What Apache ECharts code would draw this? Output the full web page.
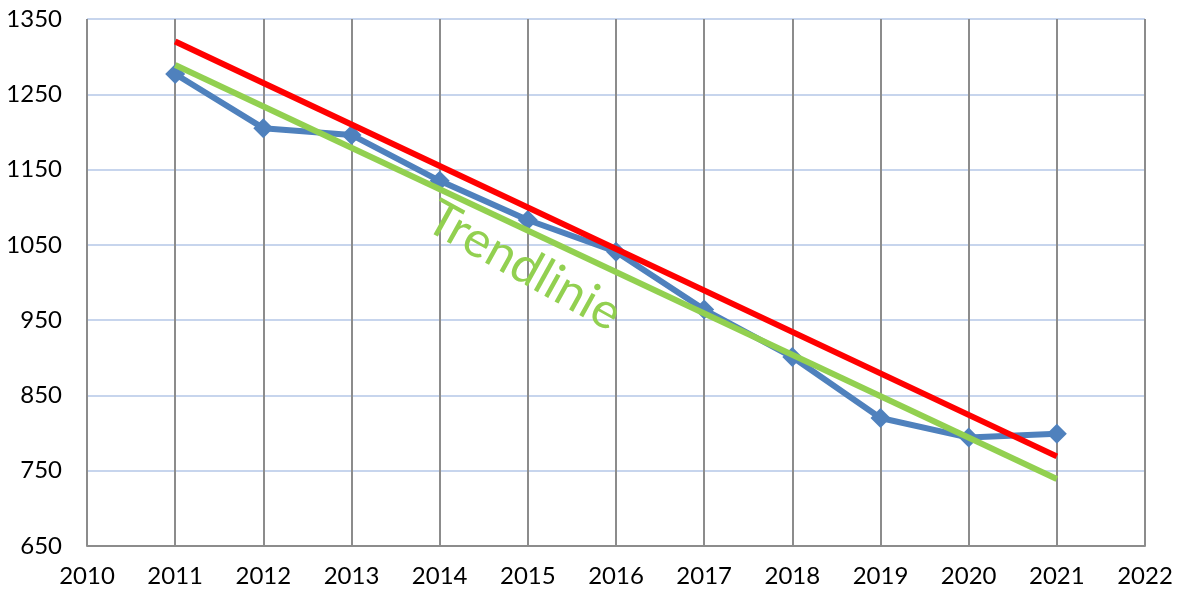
<!DOCTYPE html>
<html>
<head>
<meta charset="utf-8">
<script src="https://cdn.jsdelivr.net/npm/echarts@6/dist/echarts.min.js"></script>
<style>
  html, body { margin: 0; padding: 0; background: #fff; }
  #chart { width: 1178px; height: 594px; }
</style>
</head>
<body>
<div id="chart"></div>
<script>
const years = [2011, 2012, 2013, 2014, 2015, 2016, 2017, 2018, 2019, 2020, 2021]
const values = [1277, 1205, 1196, 1135, 1083, 1041, 964, 901, 820, 794, 799]
const redLine = [[2011, 1320], [2021, 769]]
const greenLine = [[2011, 1289], [2021, 739]]
const yTicks = [650, 750, 850, 950, 1050, 1150, 1250, 1350]
const trendLabel = 'Trendlinie'

const chart = echarts.init(document.getElementById('chart'))
const font = 'Lato, "Open Sans", sans-serif'

chart.setOption({
  animation: false,
  backgroundColor: '#fff',
  grid: { left: 87, right: 33, top: 19, bottom: 48 },
  xAxis: {
    type: 'value',
    min: 2010,
    max: 2022,
    interval: 1,
    axisLine: { show: true, lineStyle: { color: '#8c8c8c', width: 2 } },
    axisTick: { show: false },
    axisLabel: { color: '#000', fontSize: 24, fontFamily: font, margin: 18, formatter: (v) => String(v) },
    splitLine: { show: true, lineStyle: { color: '#8c8c8c', width: 2 } }
  },
  yAxis: {
    type: 'value',
    min: 650,
    max: 1350,
    axisLine: { show: false },
    axisTick: { show: false, customValues: yTicks },
    axisLabel: { color: '#000', fontSize: 24, fontFamily: font, margin: 25, customValues: yTicks, formatter: (v) => String(v) },
    splitLine: { show: true, lineStyle: { color: '#b4c7e7', width: 1.5 } }
  },
  series: [
    {
      type: 'line',
      data: years.map((y, i) => [y, values[i]]),
      symbol: 'diamond',
      symbolSize: 20,
      itemStyle: { color: '#4f81bd' },
      lineStyle: { color: '#4f81bd', width: 6 },
      z: 3
    },
    {
      type: 'line',
      data: redLine,
      symbol: 'none',
      lineStyle: { color: '#ff0000', width: 6 },
      z: 4
    },
    {
      type: 'line',
      data: greenLine,
      symbol: 'none',
      lineStyle: { color: '#92d050', width: 6 },
      z: 5
    }
  ],
  graphic: [
    {
      type: 'text',
      x: 524,
      y: 266,
      rotation: -29 * Math.PI / 180,
      z: 10,
      style: {
        text: trendLabel,
        fill: '#92d050',
        font: '50px ' + font,
        align: 'center',
        verticalAlign: 'middle'
      }
    }
  ]
})
</script>
</body>
</html>
